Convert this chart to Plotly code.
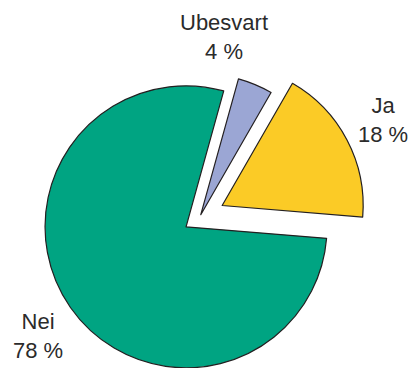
import math
import plotly.graph_objects as go

# Survey answers (percent)
labels = ["Ubesvart", "Ja", "Nei"]
values = [4, 18, 78]
colors = ["#9BA6D4", "#FBCB26", "#00A482"]
pulls = [0.02, 0.18, 0.118]

W, H = 410, 368
CX, CY = 199.7, 217.3     # pie centre in pixels (from top-left)
R = 141                   # pie radius in pixels
ROTATION = 15.5           # start angle of first slice, clockwise from 12 o'clock
LINE = "#231F20"
TRANSPARENT = "rgba(0,0,0,0)"

fig = go.Figure()

total = sum(values)
start = ROTATION
for i, (lab, val) in enumerate(zip(labels, values)):
    span = 360 * val / total
    mid = math.radians(start + span / 2)
    start += span
    # exploded slice: shift the slice's apex along its mid-angle
    dx = pulls[i] * R * math.sin(mid)
    dy = -pulls[i] * R * math.cos(mid)
    cx, cy = CX + dx, CY + dy
    dom_x = [(cx - R) / W, (cx + R) / W]
    dom_y = [(H - (cy + R)) / H, (H - (cy - R)) / H]
    slice_colors = [colors[j] if j == i else TRANSPARENT for j in range(len(values))]
    line_widths = [1.2 if j == i else 0 for j in range(len(values))]
    fig.add_trace(go.Pie(
        labels=labels,
        values=values,
        sort=False,
        direction="clockwise",
        rotation=ROTATION,
        textinfo="none",
        hoverinfo="skip",
        showlegend=False,
        marker=dict(colors=slice_colors, line=dict(color=LINE, width=line_widths)),
        domain=dict(x=dom_x, y=dom_y),
    ))

# Category labels with percentages
label_pos = {"Ubesvart": (224, 37), "Ja": (383, 120), "Nei": (38, 336)}
for lab, val in zip(labels, values):
    px, py = label_pos[lab]
    fig.add_annotation(
        x=px / W, y=(H - py) / H, xref="paper", yref="paper",
        text=f"{lab}<br>{val} %", showarrow=False,
        xanchor="center", yanchor="middle",
        font=dict(family="Liberation Sans, Arial, sans-serif", size=22, color="#2B2B2B"),
    )

fig.update_layout(
    width=W, height=H,
    margin=dict(l=0, r=0, t=0, b=0),
    paper_bgcolor="white",
    plot_bgcolor="white",
)

fig.write_html("out.html")
